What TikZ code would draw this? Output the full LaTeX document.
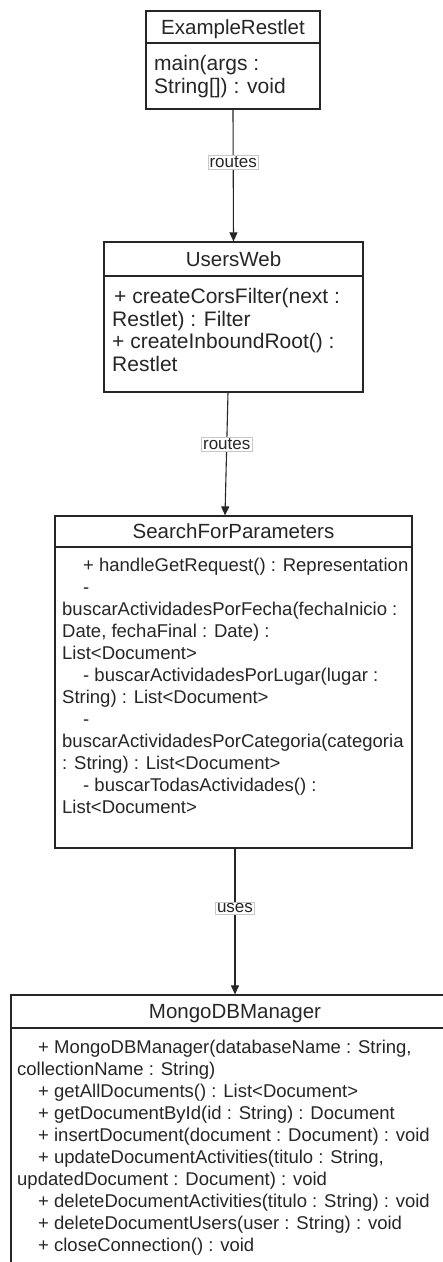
\documentclass[tikz,border=0pt]{standalone}
\usepackage{fontspec}
\setmainfont{Liberation Sans}
\usetikzlibrary{arrows.meta}
\definecolor{ink}{HTML}{262626}
\definecolor{labelframe}{HTML}{C8C8C8}
\tikzset{
  classbox/.style={draw=ink, line width=1.2pt, fill=white, inner sep=0pt},
  divider/.style={draw=ink, line width=1.2pt},
  classname/.style={font=\fontsize{20.5}{24}\selectfont, text=ink, inner sep=0pt, anchor=base},
  % body text: the top of each node sits 0.8em above its first baseline
  upperbody/.style={font=\fontsize{21}{22.5}\selectfont, text=ink, inner sep=0pt, align=left, anchor=north west,
    execute at begin node=\rule{0pt}{0.8em}},
  lowerbody/.style={font=\fontsize{18.5}{22}\selectfont, text=ink, inner sep=0pt, align=left, anchor=north west,
    execute at begin node=\rule{0pt}{0.8em}},
  link/.style={draw=ink, line width=1.1pt, -{Triangle[length=9pt,width=8pt]}},
  tag/.style={fill=white, draw=labelframe, line width=0.6pt, font=\fontsize{17}{19}\selectfont, text=ink, inner sep=1.5pt}
}
\newcommand{\ind}{\hspace*{21pt}}
\begin{document}
\begin{tikzpicture}[x=1pt,y=-1pt]
  \useasboundingbox (0,0) rectangle (443,1262);
  \clip (0,0) rectangle (443,1262);
  \fill[white] (0,0) rectangle (443,1262);

  % ExampleRestlet
  \node[classbox, minimum width=174pt, minimum height=98pt] (er) at (233,60) {};
  \draw[divider] (er.west |- 0,43) -- (er.east |- 0,43);
  \node[classname] (ertitle) at (233,34) {ExampleRestlet};
  \node[upperbody] (erbody) at (154,55.2) {main(args :\\String[]) : void};

  % UsersWeb
  \node[classbox, minimum width=259pt, minimum height=150pt] (uw) at (233.5,317) {};
  \draw[divider] (uw.west |- 0,276) -- (uw.east |- 0,276);
  \node[classname] (uwtitle) at (233.5,266.5) {UsersWeb};
  \node[upperbody] (uwbody) at (112,288.2) {\hspace*{2pt}+ createCorsFilter(next :\\Restlet) : Filter\\+ createInboundRoot() :\\Restlet};

  % SearchForParameters
  \node[classbox, minimum width=357pt, minimum height=332pt] (sfp) at (233.5,682) {};
  \draw[divider] (sfp.west |- 0,547) -- (sfp.east |- 0,547);
  \node[classname] (sfptitle) at (233.5,538.5) {SearchForParameters};
  \node[lowerbody] (sfpbody) at (62,557.7) {\ind+ handleGetRequest() : Representation\\
    \ind-\\
    buscarActividadesPorFecha(fechaInicio :\\
    Date, fechaFinal : Date) :\\
    List<Document>\\
    \ind- buscarActividadesPorLugar(lugar :\\
    String) : List<Document>\\
    \ind-\\
    buscarActividadesPorCategoria(categoria\\
    : String) : List<Document>\\
    \ind- buscarTodasActividades() :\\
    List<Document>};

  % MongoDBManager
  \node[classbox, minimum width=448pt, minimum height=295pt] (mdb) at (235,1142.5) {};
  \draw[divider] (mdb.west |- 0,1028) -- (mdb.east |- 0,1028);
  \node[classname] (mdbtitle) at (235,1018.5) {MongoDBManager};
  \node[lowerbody] (mdbbody) at (17,1039.7) {\ind+ MongoDBManager(databaseName : String,\\
    collectionName : String)\\
    \ind+ getAllDocuments() : List<Document>\\
    \ind+ getDocumentById(id : String) : Document\\
    \ind+ insertDocument(document : Document) : void\\
    \ind+ updateDocumentActivities(titulo : String,\\
    updatedDocument : Document) : void\\
    \ind+ deleteDocumentActivities(titulo : String) : void\\
    \ind+ deleteDocumentUsers(user : String) : void\\
    \ind+ closeConnection() : void};

  % Connectors
  \draw[link] (er.south) -- node[tag, pos=0.4] (l1) {routes} (uw.north);
  \draw[link] ([xshift=-5.5pt]uw.south) -- node[tag, pos=0.42] (l2) {routes} ([xshift=-8.5pt]sfp.north);
  \draw[link] ([xshift=1.5pt]sfp.south) -- node[tag, pos=0.41] (l3) {uses} (mdb.north);
\end{tikzpicture}
\end{document}
